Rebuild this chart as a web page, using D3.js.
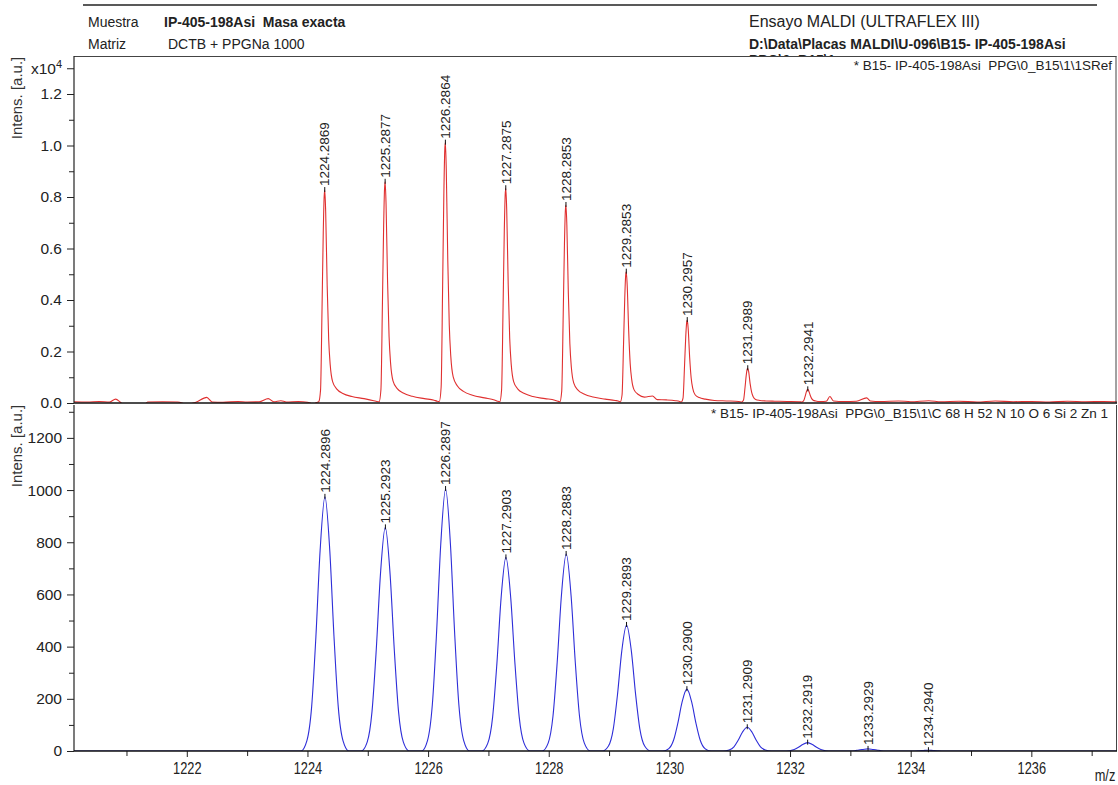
<!DOCTYPE html>
<html>
<head>
<meta charset="utf-8">
<script src="https://cdn.jsdelivr.net/npm/d3@7"></script>
<style>
  body { margin: 0; background: #fff; }
  svg { display: block; font-family: "Liberation Sans", Arial, sans-serif; }
  text { white-space: pre; }
</style>
</head>
<body>
<svg id="chart" width="1118" height="785"></svg>
<script>
// ----------------- DATA -----------------

var mzDomain = [1220.13, 1237.42];
var topIntDomain = [0, 13476];
var botIntDomain = [0, 1326];

var xMajorTicks = [1222, 1224, 1226, 1228, 1230, 1232, 1234, 1236];
var xMinorTicks = [1221, 1223, 1225, 1227, 1229, 1231, 1233, 1235, 1237];
var topMajorTicks = [0, 2000, 4000, 6000, 8000, 10000, 12000, 13000];
var topMinorTicks = [1000, 3000, 5000, 7000, 9000, 11000];
var botMajorTicks = [0, 200, 400, 600, 800, 1000, 1200];
var botMinorTicks = [100, 300, 500, 700, 900, 1100, 1300];

// measured spectrum, [m/z, intensity a.u.]
var redPeakMz = [1224.2869, 1225.2877, 1226.2864, 1227.2875, 1228.2853, 1229.2853, 1230.2957, 1231.2989, 1232.2941];
var redPeakInt = [8270, 8590, 10110, 8340, 7690, 5100, 3220, 1350, 530];

var redTrace = [
  [1220.13, 50], [1220.35, 40], [1220.55, 60], [1220.72, 40], [1220.82, 150], [1220.9, 30],
  [1220.95, -60], [1221.3, -60], [1221.35, 40], [1221.6, 50], [1221.85, 40], [1222.0, -50],
  [1222.15, 30], [1222.33, 220], [1222.42, 40], [1222.6, 30], [1222.85, 60], [1223.0, 40],
  [1223.2, 50], [1223.35, 170], [1223.44, 50], [1223.56, 90], [1223.65, 40], [1223.85, 60],
  [1224.0, 30], [1224.1, -40], [1224.15, 20],
  [1224.187, 50], [1224.217, 500], [1224.242, 3720], [1224.262, 6620], [1224.277, 8020],
  [1224.287, 8270], [1224.302, 7440], [1224.327, 4550], [1224.352, 2480], [1224.377, 1490],
  [1224.417, 830], [1224.487, 540], [1224.587, 370], [1224.737, 250], [1224.937, 170],
  [1225.10, 90], [1225.15, 60],
  [1225.188, 50], [1225.218, 520], [1225.243, 3870], [1225.263, 6870], [1225.278, 8330],
  [1225.288, 8590], [1225.303, 7730], [1225.328, 4720], [1225.353, 2580], [1225.378, 1550],
  [1225.418, 860], [1225.488, 560], [1225.588, 390], [1225.738, 260], [1225.938, 170],
  [1226.10, 110], [1226.15, 70],
  [1226.186, 60], [1226.216, 610], [1226.241, 4550], [1226.261, 8090], [1226.276, 9810],
  [1226.286, 10110], [1226.301, 9100], [1226.326, 5560], [1226.351, 3030], [1226.376, 1820],
  [1226.416, 1010], [1226.486, 660], [1226.586, 450], [1226.736, 300], [1226.936, 200],
  [1227.10, 120], [1227.15, 70],
  [1227.188, 50], [1227.218, 500], [1227.243, 3750], [1227.263, 6670], [1227.278, 8090],
  [1227.288, 8340], [1227.303, 7510], [1227.328, 4590], [1227.353, 2500], [1227.378, 1500],
  [1227.418, 830], [1227.488, 540], [1227.588, 380], [1227.738, 250], [1227.938, 170],
  [1228.10, 110], [1228.15, 70],
  [1228.185, 50], [1228.215, 460], [1228.240, 3460], [1228.260, 6150], [1228.275, 7460],
  [1228.285, 7690], [1228.300, 6920], [1228.325, 4230], [1228.350, 2310], [1228.375, 1380],
  [1228.415, 770], [1228.485, 500], [1228.585, 350], [1228.735, 230], [1228.935, 150],
  [1229.10, 100], [1229.17, 60],
  [1229.185, 40], [1229.215, 310], [1229.240, 2300], [1229.260, 4080], [1229.275, 4950],
  [1229.285, 5100], [1229.300, 4590], [1229.325, 2810], [1229.350, 1530], [1229.375, 920],
  [1229.415, 510], [1229.485, 330], [1229.585, 230], [1229.72, 270], [1229.80, 130],
  [1229.95, 120], [1230.10, 90], [1230.17, 60],
  [1230.196, 40], [1230.226, 190], [1230.251, 1450], [1230.271, 2580], [1230.286, 3120],
  [1230.296, 3220], [1230.311, 2900], [1230.336, 1770], [1230.361, 970], [1230.386, 580],
  [1230.426, 320], [1230.496, 210], [1230.596, 150], [1230.746, 100], [1230.946, 80],
  [1231.15, 60],
  [1231.199, 40], [1231.229, 120], [1231.254, 610], [1231.274, 1080], [1231.289, 1310],
  [1231.299, 1350], [1231.314, 1220], [1231.339, 740], [1231.364, 410], [1231.389, 240],
  [1231.429, 140], [1231.499, 100], [1231.599, 80], [1231.75, 70], [1231.95, 60],
  [1232.15, 50],
  [1232.194, 40], [1232.224, 80], [1232.249, 250], [1232.269, 420], [1232.284, 515],
  [1232.294, 530], [1232.309, 480], [1232.334, 300], [1232.359, 170], [1232.384, 110],
  [1232.424, 80], [1232.50, 60], [1232.60, 70], [1232.66, 250], [1232.72, 80],
  [1232.9, 60], [1233.1, 70], [1233.27, 200], [1233.33, 80], [1233.5, 60], [1233.8, 80],
  [1234.0, 50], [1234.3, 90], [1234.5, 50], [1234.8, 70], [1235.1, 40], [1235.4, 80],
  [1235.7, 50], [1236.0, 60], [1236.3, 40], [1236.6, 70], [1236.9, 50], [1237.2, 60],
  [1237.42, 50]
];

// simulated isotope pattern, [m/z, intensity a.u.]
var bluePeakMz = [1224.2896, 1225.2923, 1226.2897, 1227.2903, 1228.2883, 1229.2893, 1230.2900, 1231.2909, 1232.2919, 1233.2929, 1234.2940];
var bluePeakInt = [974, 857, 1004, 742, 755, 483, 237, 91, 32, 8, 3];

var blueTrace = [
  [1220.13, 0], [1223.89, 0],
  [1223.99, 39], [1224.07, 171], [1224.14, 438], [1224.21, 769], [1224.29, 974],
  [1224.37, 769], [1224.44, 438], [1224.51, 171], [1224.59, 39], [1224.69, 0],
  [1224.89, 0], [1224.99, 34], [1225.07, 151], [1225.14, 386], [1225.21, 677], [1225.29, 857],
  [1225.37, 677], [1225.44, 386], [1225.51, 151], [1225.59, 34], [1225.69, 0],
  [1225.89, 0], [1225.99, 40], [1226.07, 177], [1226.14, 452], [1226.21, 793], [1226.29, 1004],
  [1226.37, 793], [1226.44, 452], [1226.51, 177], [1226.59, 40], [1226.69, 0],
  [1226.89, 0], [1226.99, 30], [1227.07, 131], [1227.14, 334], [1227.21, 586], [1227.29, 742],
  [1227.37, 586], [1227.44, 334], [1227.51, 131], [1227.59, 30], [1227.69, 0],
  [1227.89, 0], [1227.99, 30], [1228.07, 133], [1228.14, 340], [1228.21, 596], [1228.29, 755],
  [1228.37, 596], [1228.44, 340], [1228.51, 133], [1228.59, 30], [1228.69, 0],
  [1228.89, 0], [1228.99, 19], [1229.07, 85], [1229.14, 217], [1229.21, 382], [1229.29, 483],
  [1229.37, 382], [1229.44, 217], [1229.51, 85], [1229.59, 19], [1229.69, 0],
  [1229.89, 0], [1229.99, 9], [1230.07, 42], [1230.14, 107], [1230.21, 187], [1230.29, 237],
  [1230.37, 187], [1230.44, 107], [1230.51, 42], [1230.59, 9], [1230.69, 0],
  [1230.89, 0], [1230.99, 4], [1231.07, 16], [1231.14, 41], [1231.21, 72], [1231.29, 91],
  [1231.37, 72], [1231.44, 41], [1231.51, 16], [1231.59, 4], [1231.69, 0],
  [1231.89, 0], [1231.99, 1], [1232.07, 6], [1232.14, 14], [1232.21, 25], [1232.29, 32],
  [1232.37, 25], [1232.44, 14], [1232.51, 6], [1232.59, 1], [1232.69, 0],
  [1232.99, 0], [1233.07, 1], [1233.14, 4], [1233.21, 6], [1233.29, 8],
  [1233.37, 6], [1233.44, 4], [1233.51, 1], [1233.59, 0],
  [1234.07, 0], [1234.14, 1], [1234.21, 2], [1234.29, 3], [1234.37, 2], [1234.44, 1], [1234.51, 0],
  [1237.42, 0]
];

var headerLeft = [['Muestra', 'IP-405-198Asi  Masa exacta'], ['Matriz', 'DCTB + PPGNa 1000']];
var headerRight = ['Ensayo MALDI (ULTRAFLEX III)', 'D:\\Data\\Placas MALDI\\U-096\\B15- IP-405-198Asi', 'PPG\\0_B15\\1'];
var topSpectrumName = '* B15- IP-405-198Asi  PPG\\0_B15\\1\\1SRef';
var botSpectrumName = '* B15- IP-405-198Asi  PPG\\0_B15\\1\\C 68 H 52 N 10 O 6 Si 2 Zn 1';

// ----------------- LAYOUT -----------------

var svg = d3.select('#chart');
var plotLeft = 74, plotRight = 1117;
var topPanel = {top: 56, bottom: 403};
var botPanel = {top: 405, bottom: 751};
var ink = '#222';

var x = d3.scaleLinear().domain(mzDomain).range([plotLeft, plotRight]);
var yTop = d3.scaleLinear().domain(topIntDomain).range([topPanel.bottom, topPanel.top]);
var yBot = d3.scaleLinear().domain(botIntDomain).range([botPanel.bottom, botPanel.top]);

// ----------------- HEADER -----------------

function drawHeader() {
    svg.append('line')
        .attr('x1', 83).attr('x2', 1097).attr('y1', 5).attr('y2', 5)
        .attr('stroke', ink).attr('stroke-width', 1.4);

    headerLeft.forEach(function(row, i) {
        var yy = 27 + i * 22;
        svg.append('text').attr('x', 88).attr('y', yy)
            .style('font-size', '14px').attr('fill', ink).text(row[0]);
        svg.append('text').attr('x', i === 0 ? 164 : 168).attr('y', yy)
            .style('font-size', '14px').style('font-weight', i === 0 ? 'bold' : 'normal')
            .attr('fill', ink).text(row[1]);
    });

    svg.append('text').attr('x', 749).attr('y', 27)
        .style('font-size', '16px').attr('fill', ink).text(headerRight[0]);
    svg.append('text').attr('x', 749).attr('y', 49)
        .style('font-size', '14px').style('font-weight', 'bold').attr('fill', ink).text(headerRight[1]);
    // third line is hidden behind the top panel
    svg.append('text').attr('x', 749).attr('y', 65)
        .style('font-size', '14px').style('font-weight', 'bold').attr('fill', ink).text(headerRight[2]);
}

// ----------------- PANELS -----------------

function drawPanelBackground(panel, id) {
    svg.append('rect')
        .attr('x', plotLeft).attr('y', panel.top)
        .attr('width', plotRight - plotLeft).attr('height', panel.bottom - panel.top)
        .attr('fill', '#fff');
    svg.append('clipPath').attr('id', id)
        .append('rect')
        .attr('x', plotLeft).attr('y', panel.top)
        .attr('width', plotRight - plotLeft).attr('height', panel.bottom - panel.top);
}

function drawTrace(trace, yScale, color, clipId) {
    var line = d3.line()
        .x(function(d) { return x(d[0]); })
        .y(function(d) { return yScale(d[1]); })
        .curve(d3.curveMonotoneX);
    svg.append('path')
        .datum(trace)
        .attr('clip-path', 'url(#' + clipId + ')')
        .attr('d', line)
        .attr('fill', 'none')
        .attr('stroke', color)
        .attr('stroke-width', 1.1)
        .attr('stroke-linejoin', 'round');
}

function drawPeakLabels(mzs, ints, yScale) {
    var g = svg.append('g');
    mzs.forEach(function(mz, i) {
        var px = x(mz), py = yScale(ints[i]);
        g.append('line')
            .attr('x1', px).attr('x2', px).attr('y1', py - 3).attr('y2', py + 2)
            .attr('stroke', '#111').attr('stroke-width', 1);
        g.append('text')
            .attr('transform', 'translate(' + px + ',' + (py - 4) + ') rotate(-90)')
            .attr('dy', '0.35em')
            .attr('text-anchor', 'start')
            .style('font-size', '13.5px')
            .attr('fill', ink)
            .text(d3.format('.4f')(mz));
    });
}

function drawYAxis(yScale, major, minor, fmt, panel) {
    var g = svg.append('g').attr('transform', 'translate(' + plotLeft + ',0)');
    g.call(d3.axisLeft(yScale).tickValues(major).tickFormat(fmt).tickSize(7).tickSizeOuter(0).tickPadding(5));
    g.select('.domain').remove();
    g.selectAll('line').attr('stroke', ink);
    g.selectAll('text').style('font-size', '15.5px').style('font-family', '"Liberation Sans", Arial, sans-serif').attr('fill', ink);

    var m = svg.append('g').attr('transform', 'translate(' + plotLeft + ',0)');
    m.call(d3.axisLeft(yScale).tickValues(minor).tickFormat('').tickSize(5).tickSizeOuter(0));
    m.select('.domain').remove();
    m.selectAll('line').attr('stroke', ink);

    svg.append('line')
        .attr('x1', plotLeft).attr('x2', plotLeft)
        .attr('y1', panel.top).attr('y2', panel.bottom)
        .attr('stroke', ink).attr('stroke-width', 1.2);
    return g;
}

function drawYTitle(panel) {
    var yy = panel === topPanel ? 98 : 446;
    svg.append('text')
        .attr('transform', 'translate(22,' + yy + ') rotate(-90)')
        .attr('text-anchor', 'middle')
        .style('font-size', '15px')
        .attr('fill', '#333')
        .text('Intens. [a.u.]');
}

// ----------------- DRAW -----------------

drawHeader();

drawPanelBackground(topPanel, 'clipTop');
drawPanelBackground(botPanel, 'clipBot');

drawTrace(redTrace, yTop, '#e03030', 'clipTop');
drawTrace(blueTrace, yBot, '#2e2ed8', 'clipBot');

drawPeakLabels(redPeakMz, redPeakInt, yTop);
drawPeakLabels(bluePeakMz, bluePeakInt, yBot);

// top panel frame
svg.append('line').attr('x1', plotLeft).attr('x2', plotRight - 0.5)
    .attr('y1', topPanel.top + 0.5).attr('y2', topPanel.top + 0.5)
    .attr('stroke', '#444').attr('stroke-width', 1);
svg.append('line').attr('x1', plotRight - 1).attr('x2', plotRight - 1)
    .attr('y1', topPanel.top).attr('y2', topPanel.bottom)
    .attr('stroke', '#444').attr('stroke-width', 1);
svg.append('line').attr('x1', plotRight - 0.5).attr('x2', plotRight - 0.5)
    .attr('y1', botPanel.top).attr('y2', botPanel.bottom)
    .attr('stroke', '#444').attr('stroke-width', 1);

// top panel baseline (no tick labels)
svg.append('line').attr('x1', plotLeft).attr('x2', plotRight)
    .attr('y1', topPanel.bottom).attr('y2', topPanel.bottom)
    .attr('stroke', '#111').attr('stroke-width', 1.5);

drawYAxis(yTop, topMajorTicks, topMinorTicks, function(v) {
    return v === 13000 ? '' : d3.format('.1f')(v / 1e4);
}, topPanel);
var expLabel = svg.append('text')
    .attr('x', plotLeft - 12).attr('y', yTop(13000))
    .attr('dy', '0.35em').attr('text-anchor', 'end')
    .style('font-size', '15.5px').attr('fill', ink);
expLabel.append('tspan').text('x10');
expLabel.append('tspan').attr('dy', -6).style('font-size', '11px').text('4');

drawYAxis(yBot, botMajorTicks, botMinorTicks, d3.format('d'), botPanel);

drawYTitle(topPanel);
drawYTitle(botPanel);

// x axis
var xg = svg.append('g').attr('transform', 'translate(0,' + botPanel.bottom + ')');
xg.call(d3.axisBottom(x).tickValues(xMajorTicks).tickFormat(d3.format('d')).tickSize(6).tickSizeOuter(0).tickPadding(6));
xg.select('.domain').remove();
xg.selectAll('line').attr('stroke', ink);
xg.selectAll('text')
    .style('font-size', '16px')
    .style('font-family', '"Liberation Sans", Arial, sans-serif')
    .attr('fill', ink)
    .attr('transform', 'scale(0.8,1)');
var xm = svg.append('g').attr('transform', 'translate(0,' + botPanel.bottom + ')');
xm.call(d3.axisBottom(x).tickValues(xMinorTicks).tickFormat('').tickSize(5).tickSizeOuter(0));
xm.select('.domain').remove();
xm.selectAll('line').attr('stroke', ink);
svg.append('line').attr('x1', plotLeft).attr('x2', plotRight)
    .attr('y1', botPanel.bottom).attr('y2', botPanel.bottom)
    .attr('stroke', '#111').attr('stroke-width', 1.5);

svg.append('text')
    .attr('transform', 'translate(1105,781) scale(0.8,1)')
    .attr('text-anchor', 'middle')
    .style('font-size', '16px').attr('fill', ink)
    .text('m/z');

// spectrum names
svg.append('text').attr('x', 1112).attr('y', 70).attr('text-anchor', 'end')
    .style('font-size', '13.5px').attr('fill', ink).text(topSpectrumName);
svg.append('text').attr('x', 1108).attr('y', 418).attr('text-anchor', 'end')
    .style('font-size', '13.5px').attr('fill', ink).text(botSpectrumName);
</script>
</body>
</html>
